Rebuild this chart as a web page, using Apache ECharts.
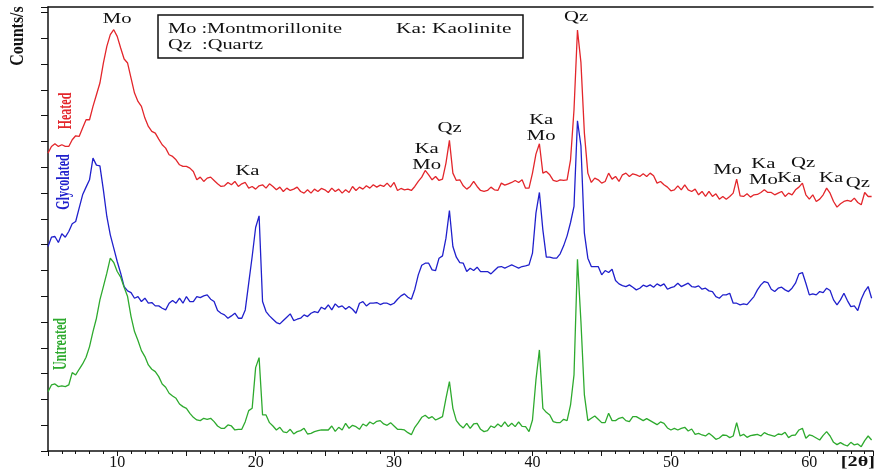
<!DOCTYPE html>
<html>
<head>
<meta charset="utf-8">
<script src="https://cdn.jsdelivr.net/npm/echarts@6/dist/echarts.min.js"></script>
<style>
html, body { margin: 0; padding: 0; background: #fff; }
#chart { width: 876px; height: 476px; }
</style>
</head>
<body>
<div id="chart"></div>
<script>
// scan grid, 2theta in degrees
const scanStart = 5
const scanStep = 0.25

// intensities (counts/s, stacked offsets as in the figure)
const heated = [
  893, 913, 921, 913, 918, 913, 913, 933,
  945, 943, 968, 993, 993, 1033, 1068, 1103,
  1163, 1213, 1248, 1263, 1243, 1208, 1175, 1163,
  1118, 1073, 1048, 1033, 998, 973, 958, 953,
  935, 918, 908, 888, 883, 873, 858, 853,
  853, 848, 838, 813, 821, 808, 818, 821,
  811, 801, 793, 795, 805, 798, 808, 793,
  801, 805, 788, 793, 785, 795, 798, 788,
  801, 793, 783, 791, 778, 788, 781, 785,
  791, 778, 773, 783, 773, 785, 778, 787,
  783, 775, 788, 778, 785, 773, 783, 775,
  793, 781, 791, 785, 795, 788, 798, 791,
  797, 793, 803, 791, 805, 781, 787, 783,
  785, 781, 793, 808, 821, 841, 828, 813,
  823, 811, 815, 863, 931, 833, 811, 813,
  795, 785, 793, 808, 793, 781, 778, 781,
  791, 783, 781, 803, 797, 801, 805, 811,
  805, 813, 788, 788, 833, 890, 921, 833,
  838, 828, 811, 808, 813, 811, 813, 873,
  1023, 1262, 1165, 953, 833, 805, 818, 813,
  803, 808, 833, 815, 823, 808, 828, 833,
  823, 831, 828, 823, 831, 823, 833, 825,
  803, 808, 798, 791, 780, 783, 795, 783,
  798, 783, 778, 785, 768, 778, 763, 778,
  763, 771, 755, 763, 755, 763, 773, 815,
  765, 763, 771, 761, 768, 769, 775, 783,
  775, 775, 768, 773, 778, 763, 773, 768,
  783, 791, 803, 768, 755, 768, 748, 755,
  768, 788, 773, 748, 731, 741, 748, 751,
  748, 758, 745, 738, 775, 763, 763
]
const glycolated = [
  613, 641, 643, 625, 651, 641, 658, 681,
  688, 728, 768, 791, 813, 878, 857, 855,
  783, 703, 648, 608, 568, 533, 493, 480,
  475, 458, 463, 448, 458, 443, 445, 435,
  435, 428, 423, 443, 451, 443, 458, 443,
  463, 448, 448, 463, 460, 465, 468, 455,
  448, 421, 413, 408, 398, 405, 413, 398,
  398, 423, 503, 583, 670, 705, 448, 418,
  405, 395, 385, 381, 391, 401, 411, 391,
  395, 398, 408, 403, 413, 418, 415, 431,
  425, 438, 423, 441, 431, 435, 425, 433,
  425, 413, 443, 448, 435, 443, 443, 445,
  439, 443, 443, 438, 443, 455, 465, 471,
  461, 455, 485, 528, 557, 563, 563, 543,
  541, 578, 585, 638, 721, 613, 581, 565,
  563, 538, 548, 541, 551, 538, 538, 538,
  531, 541, 551, 553, 548, 553, 558, 553,
  548, 553, 555, 558, 593, 713, 775, 663,
  581, 581, 578, 578, 591, 615, 645, 685,
  733, 990, 915, 653, 578, 553, 553, 553,
  528, 541, 535, 545, 511, 501, 496, 493,
  498, 491, 483, 488, 497, 493, 498, 491,
  501, 495, 501, 485, 490, 493, 503, 493,
  498, 503, 493, 491, 495, 485, 488, 480,
  478, 463, 458, 468, 468, 473, 443, 443,
  438, 441, 439, 451, 463, 483, 498, 508,
  505, 485, 478, 488, 491, 483, 478, 488,
  503, 531, 535, 503, 468, 471, 468, 478,
  475, 488, 481, 453, 438, 453, 473, 451,
  433, 435, 421, 455, 478, 493, 458
]
const untreated = [
  178, 198, 201, 193, 195, 193, 198, 235,
  228, 245, 261, 281, 313, 358, 398, 453,
  493, 533, 578, 565, 538, 521, 491, 463,
  403, 358, 331, 301, 283, 258, 245, 238,
  223, 201, 191, 173, 165, 158, 141, 133,
  128, 113, 101, 93, 91, 98, 95, 98,
  88, 75, 68, 68, 78, 75, 63, 65,
  65, 88, 121, 128, 250, 280, 108, 108,
  85, 75, 63, 71, 57, 55, 65, 51,
  58, 61, 68, 51, 53, 58, 61, 63,
  63, 63, 75, 59, 71, 63, 83, 68,
  77, 73, 65, 81, 75, 87, 81, 89,
  91, 81, 77, 85, 75, 65, 65, 63,
  55, 49, 71, 85, 101, 107, 98, 103,
  93, 98, 103, 158, 208, 128, 91, 78,
  69, 83, 68, 81, 83, 65, 58, 61,
  75, 70, 81, 73, 87, 73, 83, 73,
  87, 74, 73, 58, 93, 213, 303, 128,
  116, 108, 88, 85, 85, 95, 91, 138,
  228, 575, 388, 168, 91, 98, 105, 95,
  85, 85, 113, 91, 91, 98, 101, 91,
  88, 103, 103, 97, 91, 97, 91, 85,
  79, 87, 83, 69, 63, 68, 63, 68,
  71, 60, 66, 50, 53, 48, 45, 53,
  45, 35, 39, 48, 47, 40, 45, 85,
  45, 50, 41, 46, 48, 50, 45, 55,
  50, 47, 44, 51, 49, 56, 40, 47,
  48, 63, 68, 38, 48, 45, 39, 33,
  47, 58, 45, 26, 19, 25, 19, 15,
  26, 18, 21, 13, 31, 45, 33
]
const twoTheta = heated.map((_, i) => +(scanStart + i * scanStep).toFixed(2))

// mineral labels over the peaks (data coordinates)
const peakText = ['Mo', 'Ka', 'Ka', 'Mo', 'Qz', 'Ka', 'Mo', 'Qz', 'Mo', 'Ka', 'Mo', 'Ka', 'Qz', 'Ka', 'Qz']
const peakX = [10.0, 19.41, 32.36, 32.36, 34.01, 40.63, 40.63, 43.15, 54.09, 56.68, 56.68, 58.55, 59.55, 61.57, 63.51]
const peakY = [1296, 840, 906, 858, 969, 993, 945, 1302, 843, 861, 813, 819, 864, 819, 804]

const xMin = 5
const xMax = 64.6
const yMax = 1331
const yStep = 77.34

const serif = '"Liberation Serif", "Times New Roman", serif'
const red = '#e3262b'
const blue = '#2020cc'
const green = '#2eaa2e'

function txt(text, x, y, o) {
  o = o || {}
  return {
    type: 'text', x: x, y: y, silent: true, z: 10,
    rotation: o.rot || 0, scaleX: o.sx || 1, scaleY: o.sy || 1,
    style: {
      text: text, fill: o.color || '#111', fontSize: o.size || 15,
      fontWeight: o.bold ? 'bold' : 'normal', fontFamily: serif,
      align: o.align || 'center', verticalAlign: 'middle'
    }
  }
}

function line(name, values, color) {
  return {
    name: name, type: 'line', showSymbol: false, animation: false,
    data: twoTheta.map((x, i) => [x, values[i]]),
    lineStyle: { color: color, width: 1.3 },
    itemStyle: { color: color }
  }
}

const chart = echarts.init(document.getElementById('chart'))
chart.setOption({
  animation: false,
  grid: { left: 48, right: 0, top: 7, bottom: 25 },
  xAxis: [
    {
      type: 'value', min: xMin, max: xMax, interval: 5,
      axisLine: { lineStyle: { color: '#111', width: 1.5 } },
      axisTick: { length: 5, lineStyle: { color: '#111' } },
      minorTick: { show: true, splitNumber: 5, length: 3, lineStyle: { color: '#111' } },
      splitLine: { show: false },
      axisLabel: {
        color: '#111', fontSize: 16, fontFamily: serif, margin: 4,
        formatter: v => (v % 10 === 0 ? String(v) : '')
      }
    },
    {
      type: 'value', position: 'top', min: xMin, max: xMax,
      axisLine: { show: true, lineStyle: { color: '#111', width: 1.5 } },
      axisTick: { show: false }, axisLabel: { show: false }, splitLine: { show: false }
    }
  ],
  yAxis: {
    type: 'value', min: 0, max: yMax, interval: yStep,
    axisLine: { show: true, lineStyle: { color: '#111', width: 1.5 } },
    axisTick: { show: true, length: 7, lineStyle: { color: '#111' } },
    axisLabel: { show: false },
    splitLine: { show: false }
  },
  series: [
    line('Heated', heated, red),
    line('Glycolated', glycolated, blue),
    line('Untreated', untreated, green)
  ]
})

const graphics = [
  {
    type: 'rect', silent: true, z: 5,
    shape: { x: 158, y: 15, width: 365, height: 43 },
    style: { fill: '#fff', stroke: '#111', lineWidth: 1.5 }
  },
  txt('Mo :Montmorillonite', 168, 29, { align: 'left', sx: 1.36 }),
  txt('Ka: Kaolinite', 396, 29, { align: 'left', sx: 1.42 }),
  txt('Qz  :Quartz', 168, 45, { align: 'left', sx: 1.36 }),
  txt('Counts/s', 18, 36, { bold: true, size: 16, rot: Math.PI / 2, sy: 1.15 }),
  txt('Heated', 66, 111, { bold: true, size: 12, rot: Math.PI / 2, sy: 1.5, color: red }),
  txt('Glycolated', 64.5, 182, { bold: true, size: 12, rot: Math.PI / 2, sy: 1.5, color: blue }),
  txt('Untreated', 61.5, 344, { bold: true, size: 12, rot: Math.PI / 2, sy: 1.5, color: green }),
  txt('[2\u03b8]', 875, 462, { bold: true, size: 15, align: 'right', sx: 1.35 })
]
peakText.forEach((t, i) => {
  const p = chart.convertToPixel({ seriesIndex: 0 }, [peakX[i], peakY[i]])
  graphics.push(txt(t, p[0], p[1], { sx: 1.38 }))
})
chart.setOption({ graphic: graphics })

window.addEventListener('resize', () => {
  chart.resize()
})
</script>
</body>
</html>
